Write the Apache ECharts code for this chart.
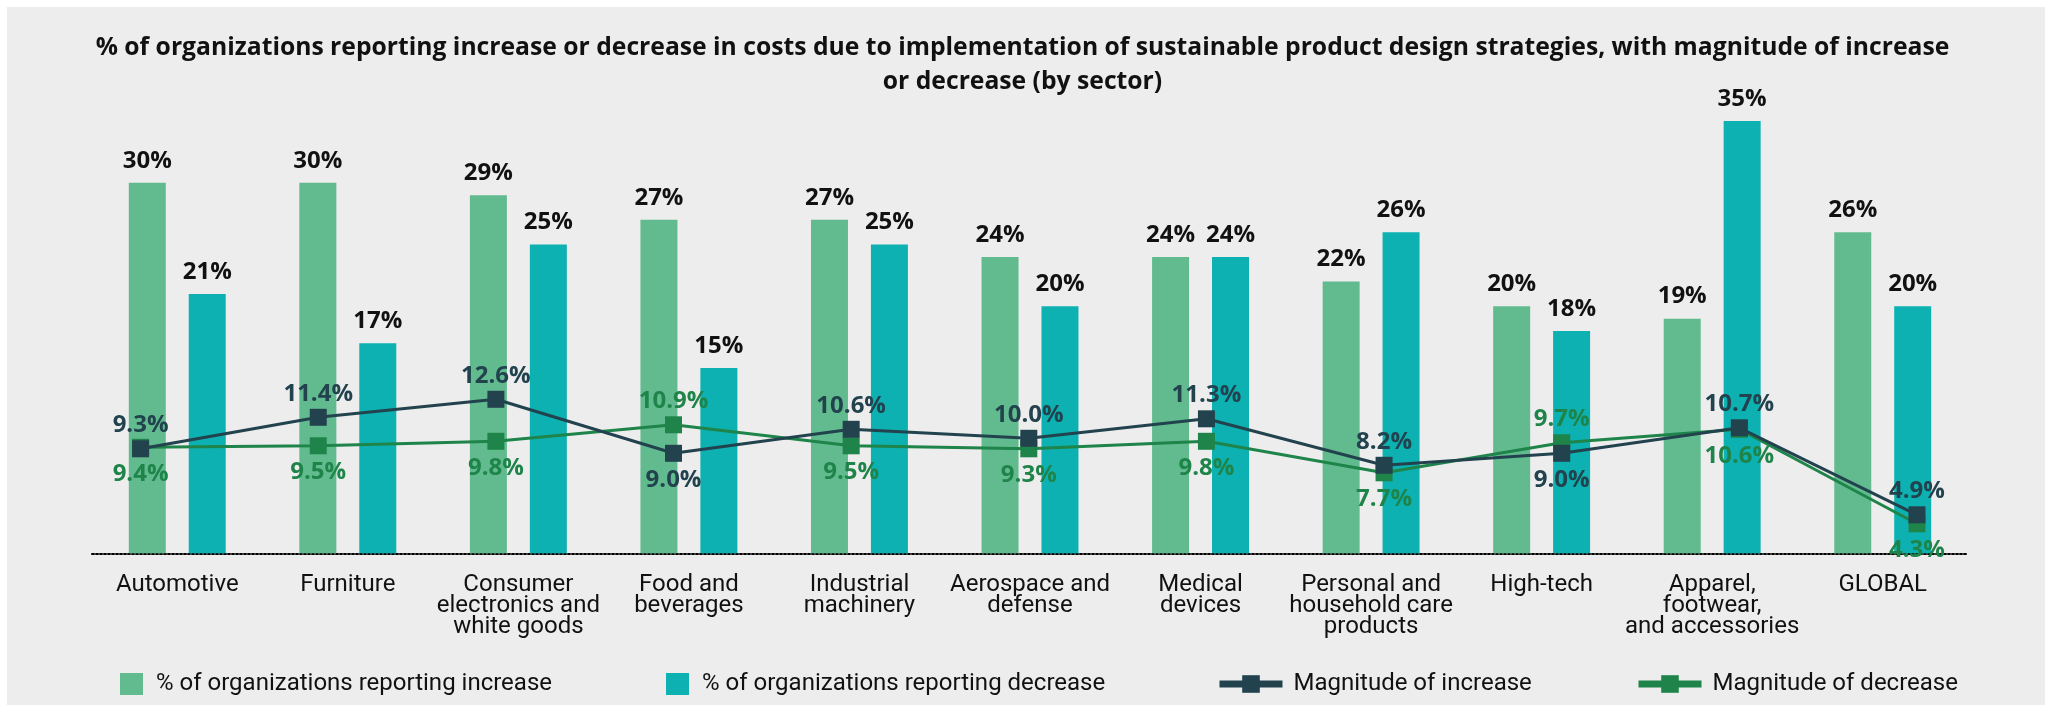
<!DOCTYPE html>
<html>
<head>
<meta charset="utf-8">
<script src="https://cdn.jsdelivr.net/npm/echarts@6/dist/echarts.min.js"></script>
<style>
html,body{margin:0;padding:0;background:#ffffff;}
#chart{width:2045px;height:705px;}
</style>
</head>
<body>
<div id="chart"></div>
<script>
const titleText = '% of organizations reporting increase or decrease in costs due to implementation of sustainable product design strategies, with magnitude of increase\nor decrease (by sector)';
const categories = ['Automotive', 'Furniture', 'Consumer\nelectronics and\nwhite goods', 'Food and\nbeverages', 'Industrial\nmachinery', 'Aerospace and\ndefense', 'Medical\ndevices', 'Personal and\nhousehold care\nproducts', 'High-tech', 'Apparel,\nfootwear,\nand accessories', 'GLOBAL'];
const seriesNames = ['% of organizations reporting increase', '% of organizations reporting decrease', 'Magnitude of increase', 'Magnitude of decrease'];
const pctIncrease = [30, 30, 29, 27, 27, 24, 24, 22, 20, 19, 26];
const pctDecrease = [21, 17, 25, 15, 25, 20, 24, 26, 18, 35, 20];
const magIncrease = [9.3, 11.4, 12.6, 9.0, 10.6, 10.0, 11.3, 8.2, 9.0, 10.7, 4.9];
const magDecrease = [9.4, 9.5, 9.8, 10.9, 9.5, 9.3, 9.8, 7.7, 9.7, 10.6, 4.3];

const FONT = 'Roboto';
const BFONT = 'Open Sans';
const C_INC = '#62bb8f', C_DEC = '#0db1b1', C_MINC = '#22434e', C_MDEC = '#1e8449';

// label goes below for increase line when decrease clearly exceeds it
const swapped = magIncrease.map((v, i) => magDecrease[i] > v + 0.5);

const chart = echarts.init(document.getElementById('chart'), null, {renderer: 'canvas'});
const legendBase = {padding: 0, top: 672, itemHeight: 22, textStyle: {fontFamily: FONT, fontSize: 24, color: '#111', padding: [0, 0, 0, 8]}};
const barLabel = {show: true, position: 'top', distance: 10, formatter: '{c}%', fontFamily: BFONT, fontSize: 24, fontWeight: 'bold', color: '#111'};
const lineLabel = {show: true, formatter: p => p.value.toFixed(1) + '%', fontFamily: BFONT, fontSize: 24, fontWeight: 'bold'};
chart.setOption({
  animation: false,
  backgroundColor: '#ffffff',
  textStyle: {fontFamily: FONT},
  graphic: [{type: 'rect', z: -10, silent: true, shape: {x: 7, y: 7, width: 2038, height: 698}, style: {fill: '#ededed'}}],
  title: {
    text: titleText, left: 'center', top: 26,
    textStyle: {fontFamily: BFONT, fontSize: 24.7, fontWeight: 'bold', color: '#111', lineHeight: 34}
  },
  legend: [
    Object.assign({}, legendBase, {left: 120, data: [seriesNames[0]], icon: 'rect', itemWidth: 23}),
    Object.assign({}, legendBase, {left: 666, data: [seriesNames[1]], icon: 'rect', itemWidth: 23}),
    Object.assign({}, legendBase, {left: 1216, data: [seriesNames[2]], itemWidth: 63, lineStyle: {width: 7}, textStyle: Object.assign({}, legendBase.textStyle, {padding: [0, 0, 0, 6]})}),
    Object.assign({}, legendBase, {left: 1635, data: [seriesNames[3]], itemWidth: 63, lineStyle: {width: 7}, textStyle: Object.assign({}, legendBase.textStyle, {padding: [0, 0, 0, 6]})})
  ],
  grid: [
    {left: 92, right: 77, top: 59.3, bottom: 151.7},
    {left: 140.6, right: 128, top: 138.3, bottom: 116.7}
  ],
  xAxis: [
    {type: 'category', gridIndex: 0, data: categories,
     axisLine: {show: true, lineStyle: {color: '#000', width: 2, type: 'dotted'}},
     axisTick: {show: false},
     axisLabel: {margin: 21, fontFamily: FONT, fontSize: 24, color: '#111', lineHeight: 21, interval: 0}},
    {type: 'category', gridIndex: 1, data: categories, boundaryGap: false, show: false}
  ],
  yAxis: [
    {type: 'value', gridIndex: 0, min: 0, max: 40, show: false, splitLine: {show: false}},
    {type: 'value', gridIndex: 1, min: 0, max: 30, show: false, splitLine: {show: false}}
  ],
  series: [
    {name: seriesNames[0], type: 'bar', xAxisIndex: 0, yAxisIndex: 0, data: pctIncrease,
     barWidth: 37, barGap: '62%', itemStyle: {color: C_INC}, label: barLabel},
    {name: seriesNames[1], type: 'bar', xAxisIndex: 0, yAxisIndex: 0, data: pctDecrease,
     barWidth: 37, barGap: '62%', itemStyle: {color: C_DEC}, label: barLabel},
    {name: seriesNames[3], type: 'line', xAxisIndex: 1, yAxisIndex: 1, z: 3,
     data: magDecrease.map((v, i) => ({value: v, label: swapped[i] ? {position: 'top', distance: 3} : {position: 'bottom', distance: 6}})),
     symbol: 'rect', symbolSize: 17, lineStyle: {color: C_MDEC, width: 3}, itemStyle: {color: C_MDEC},
     label: Object.assign({}, lineLabel, {color: C_MDEC})},
    {name: seriesNames[2], type: 'line', xAxisIndex: 1, yAxisIndex: 1, z: 4,
     data: magIncrease.map((v, i) => ({value: v, label: swapped[i] ? {position: 'bottom', distance: 6} : {position: 'top', distance: 3}})),
     symbol: 'rect', symbolSize: 17, lineStyle: {color: C_MINC, width: 3}, itemStyle: {color: C_MINC},
     label: Object.assign({}, lineLabel, {color: C_MINC})}
  ]
});
</script>
</body>
</html>
